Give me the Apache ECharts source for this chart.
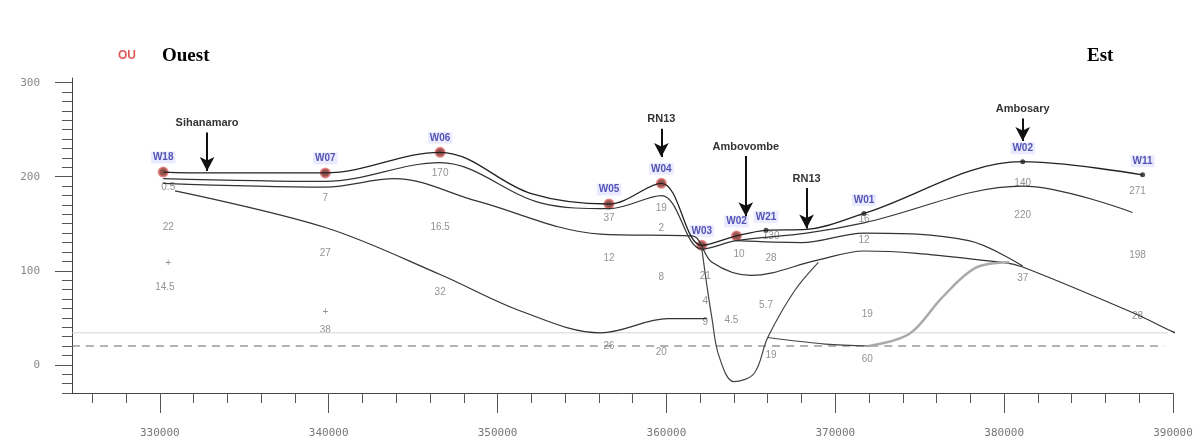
<!DOCTYPE html>
<html>
<head>
<meta charset="utf-8">
<script src="https://cdn.jsdelivr.net/npm/echarts@6/dist/echarts.min.js"></script>
<style>
html,body{margin:0;padding:0;background:#fff}
#main{width:1203px;height:448px}
</style>
</head>
<body>
<div id="main"></div>
<script>
// abscisse = X (m), ordonnee = altitude (m)
var xMajor = [330000, 340000, 350000, 360000, 370000, 380000, 390000];
var xMinor = [326000, 328000, 330000, 332000, 334000, 336000, 338000, 340000, 342000, 344000, 346000, 348000, 350000, 352000, 354000, 356000, 358000, 360000, 362000, 364000, 366000, 368000, 370000, 372000, 374000, 376000, 378000, 380000, 382000, 384000, 386000, 388000, 390000];
var yMajor = [0, 100, 200, 300];
var yMinor = [-30, -20, -10, 0, 10, 20, 30, 40, 50, 60, 70, 80, 90, 100, 110, 120, 130, 140, 150, 160, 170, 180, 190, 200, 210, 220, 230, 240, 250, 260, 270, 280, 290, 300];

// toit (surface du sol)
var layer1 = [[330200,205],[332700,204],[339800,204],[346600,226],[352000,182],[356600,171],[359700,193],[362100,127],[364150,137],[365900,143],[368300,144],[371700,161],[381100,216],[388200,202]];
var layer2 = [[330200,198],[339800,195],[346600,215],[352600,172],[356600,166],[359700,180],[362100,123],[364150,132],[368300,140],[371700,151],[381100,190],[387600,162]];
var layer3 = [[330200,193],[339800,189],[343900,198],[348800,174],[356100,139],[361500,137],[362700,109],[365000,95],[368900,111],[371700,121],[379900,109],[381100,104],[387800,54],[390000,35],[391900,22]];
var layer4 = [[364150,132],[368000,130],[371700,140],[377900,132],[381100,105]];
var layer5 = [[330900,185],[339800,146],[346600,96],[351400,57],[356100,34],[360100,49],[362400,49]];
var deepCurve = [[362100,123],[362400,84],[362700,49],[363100,10],[364000,-18],[365200,-9],[366000,29],[367600,79],[369000,109]];
var baseDark = [[366000,29],[369400,22],[372000,20]];
var baseGrey = [[372000,20],[374400,33],[376300,71],[378300,103],[380300,109]];
var waterLevel = [[324800,20],[389500,20]];
var faintLevel = [[324800,34],[389700,34]];

// forages : x, altitude, nom
var wellsRed = [[330200,205,'W18'],[339800,204,'W07'],[346600,226,'W06'],[356600,171,'W05'],[359700,193,'W04'],[362100,127,'W03'],[364150,137,'W02']];
var wellsBlack = [[365900,143,'W21'],[371700,161,'W01'],[381100,216,'W02'],[388200,202,'W11']];

// epaisseurs
var thickness = [
  [330500,189,'0.5'],[330500,146,'22'],[330500,108,'+'],[330300,82,'14.5'],
  [339800,177,'7'],[339800,119,'27'],[339800,56,'+'],[339800,37,'38'],
  [346600,204,'170'],[346600,146,'16.5'],[346600,77,'32'],
  [356600,156,'37'],[356600,113,'12'],[356600,20,'26'],
  [359700,167,'19'],[359700,145,'2'],[359700,93,'8'],[359700,13,'20'],
  [362300,94,'21'],[362300,68,'4'],[362300,45,'9'],
  [364300,118,'10'],[363850,47,'4.5'],[366200,137,'130'],[366200,113,'28'],[365900,63,'5.7'],[366200,10,'19'],
  [371700,155,'16'],[371700,132,'12'],[371900,54,'19'],[371900,6,'60'],
  [381100,193,'140'],[381100,159,'220'],[381100,92,'37'],
  [387900,185,'271'],[387900,117,'198'],[387900,52,'28']
];

// localites : nom, x, haut de fleche, pointe
var places = [
  ['Sihanamaro', 332800, 247, 206],
  ['RN13', 359700, 251, 221],
  ['Ambovombe', 364700, 222, 158],
  ['RN13', 368300, 188, 145],
  ['Ambosary', 381100, 262, 238]
];

var myChart = echarts.init(document.getElementById('main'));

function lineSeries(d, color, width, type) {
  return {
    type: 'line', data: d, smooth: 0.35, symbol: 'none', silent: true, clip: false,
    lineStyle: { color: color, width: width, type: type || 'solid' }
  };
}

var arrowLines = places.map(function (p) {
  return [
    { coord: [p[1], p[2]], label: { show: true, position: 'start', formatter: p[0], distance: 4 } },
    { coord: [p[1], p[3]] }
  ];
});

var option = {
  animation: false,
  backgroundColor: '#fff',
  grid: { left: 72, right: 30, top: 78, bottom: 55 },
  xAxis: [{
    type: 'value', min: 324800, max: 390000,
    axisLine: { onZero: false, lineStyle: { color: '#444', width: 1 } },
    axisTick: { show: true, length: 20, customValues: xMajor, lineStyle: { color: '#555' } },
    axisLabel: { customValues: xMajor, margin: 35, color: '#777', fontSize: 11, fontFamily: 'DejaVu Sans Mono',
      formatter: function (v) { return String(v); } },
    splitLine: { show: false }
  }, {
    type: 'value', min: 324800, max: 390000, position: 'bottom',
    axisLine: { show: false, onZero: false },
    axisTick: { show: true, length: 10, customValues: xMinor, lineStyle: { color: '#555' } },
    axisLabel: { show: false }, splitLine: { show: false }
  }],
  yAxis: [{
    type: 'value', min: -30, max: 305,
    axisLine: { show: true, onZero: false, lineStyle: { color: '#444', width: 1 } },
    axisTick: { show: true, length: 17, customValues: yMajor, lineStyle: { color: '#555' } },
    axisLabel: { customValues: yMajor, margin: 32, color: '#888', fontSize: 11, fontFamily: 'DejaVu Sans Mono' },
    splitLine: { show: false }
  }, {
    type: 'value', min: -30, max: 305, position: 'left',
    axisLine: { show: false, onZero: false },
    axisTick: { show: true, length: 10, customValues: yMinor, lineStyle: { color: '#555' } },
    axisLabel: { show: false }, splitLine: { show: false }
  }],
  series: [
    lineSeries(faintLevel, '#d4d4d4', 1),
    lineSeries(waterLevel, '#666', 1, [8, 6]),
    lineSeries(layer5, '#333', 1.2),
    lineSeries(layer4, '#333', 1.2),
    lineSeries(layer3, '#333', 1.2),
    lineSeries(layer2, '#333', 1.2),
    lineSeries(layer1, '#222', 1.3),
    lineSeries(deepCurve, '#444', 1.2),
    lineSeries(baseDark, '#444', 1.2),
    lineSeries(baseGrey, '#aaa', 2.5),
    {
      type: 'line', data: [], silent: true,
      markLine: {
        silent: true, animation: false,
        symbol: ['none', 'arrow'], symbolSize: [11, 14],
        lineStyle: { color: '#111', width: 2, type: 'solid' },
        label: { color: '#333', fontSize: 11, fontWeight: 'bold', fontFamily: 'Liberation Sans' },
        data: arrowLines
      }
    },
    {
      type: 'scatter', data: thickness, symbolSize: 0, silent: true,
      label: { show: true, position: 'inside', formatter: function (p) { return p.value[2]; },
        color: '#777', fontSize: 10, fontFamily: 'Liberation Sans' }
    },
    {
      type: 'scatter', data: wellsRed, symbol: 'circle', symbolSize: 9, silent: true,
      itemStyle: { color: '#7a2a20', borderColor: '#e07070', borderWidth: 2 },
      label: { show: true, position: 'top', distance: 3, formatter: function (p) { return p.value[2]; },
        color: '#2c2ca0', fontSize: 10, fontWeight: 'bold', fontFamily: 'Liberation Sans',
        backgroundColor: 'rgba(200,200,255,0.45)', padding: [1, 2] }
    },
    {
      type: 'scatter', data: wellsBlack, symbol: 'circle', symbolSize: 5, silent: true,
      itemStyle: { color: '#222' },
      label: { show: true, position: 'top', distance: 5, formatter: function (p) { return p.value[2]; },
        color: '#2c2ca0', fontSize: 10, fontWeight: 'bold', fontFamily: 'Liberation Sans',
        backgroundColor: 'rgba(200,200,255,0.45)', padding: [1, 2] }
    }
  ],
  graphic: [
    { type: 'text', left: 118, top: 50, style: { text: 'OU', fill: '#e05a5a', font: 'bold 12px Liberation Sans' } },
    { type: 'rect', left: 148, top: 42, shape: { width: 110, height: 30 }, style: { fill: '#fff' } },
    { type: 'text', left: 162, top: 47, style: { text: 'Ouest', fill: '#000', font: 'bold 19px Liberation Serif' } },
    { type: 'text', left: 1087, top: 47, style: { text: 'Est', fill: '#000', font: 'bold 19px Liberation Serif' } }
  ]
};

myChart.setOption(option);
</script>
</body>
</html>
